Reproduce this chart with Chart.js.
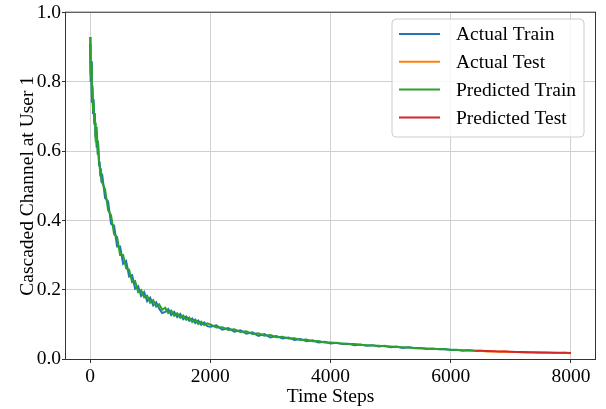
<!DOCTYPE html>
<html>
<head>
<meta charset="utf-8">
<script src="https://cdn.jsdelivr.net/npm/chart.js@4"></script>
<style>
  html, body { margin: 0; padding: 0; background: #fff; }
  canvas { display: block; }
</style>
</head>
<body>
<canvas id="myChart" width="606" height="409"></canvas>
<script>
// time steps for the training part (denser at the start where it drops fast)
const trainSteps = [
  0, 10, 20, 30, 40, 50, 60, 70, 80, 90, 100, 110, 120, 130, 140, 150, 160, 170, 180, 190,
  200, 250, 300, 350, 400, 450, 500, 550, 600, 650, 700, 750, 800, 850, 900, 950,
  1000, 1050, 1100, 1150, 1200, 1250, 1300, 1350, 1400, 1450, 1500, 1550, 1600, 1650, 1700, 1750, 1800, 1850, 1900, 1950,
  2000, 2100, 2200, 2300, 2400, 2500, 2600, 2700, 2800, 2900, 3000, 3100, 3200, 3300, 3400, 3500, 3600, 3700, 3800, 3900,
  4000, 4100, 4200, 4300, 4400, 4500, 4600, 4700, 4800, 4900, 5000, 5100, 5200, 5300, 5400, 5500, 5600, 5700, 5800, 5900,
  6000, 6100, 6200, 6300, 6400
];
const actualTrain = [
  0.91, 0.80, 0.86, 0.74, 0.79, 0.71, 0.75, 0.68, 0.71, 0.64, 0.67, 0.61, 0.63, 0.59, 0.60, 0.56, 0.57, 0.53, 0.55, 0.51,
  0.535, 0.465, 0.455, 0.39, 0.385, 0.325, 0.325, 0.275, 0.283, 0.238, 0.242, 0.203, 0.210, 0.182, 0.193, 0.167,
  0.177, 0.155, 0.164, 0.145, 0.133, 0.136, 0.144, 0.127, 0.136, 0.121, 0.130, 0.115, 0.123, 0.110, 0.117, 0.104, 0.111, 0.099, 0.106, 0.095,
  0.093, 0.097, 0.085, 0.089, 0.079, 0.083, 0.073, 0.077, 0.067, 0.072, 0.062, 0.066, 0.059, 0.062, 0.055, 0.058, 0.051, 0.054, 0.048, 0.050,
  0.045, 0.047, 0.043, 0.044, 0.040, 0.042, 0.038, 0.040, 0.036, 0.038, 0.034, 0.036, 0.032, 0.034, 0.031, 0.032, 0.029, 0.030, 0.028, 0.029,
  0.026, 0.027, 0.024, 0.025, 0.024
];
const predictedTrain = [
  0.93, 0.82, 0.85, 0.76, 0.78, 0.72, 0.74, 0.69, 0.70, 0.65, 0.66, 0.62, 0.63, 0.59, 0.60, 0.57, 0.57, 0.54, 0.55, 0.52,
  0.51, 0.49, 0.43, 0.415, 0.36, 0.352, 0.30, 0.30, 0.262, 0.258, 0.222, 0.225, 0.193, 0.199, 0.178, 0.183,
  0.163, 0.170, 0.151, 0.158, 0.142, 0.148, 0.133, 0.140, 0.125, 0.132, 0.119, 0.126, 0.113, 0.120, 0.107, 0.114, 0.101, 0.108, 0.098, 0.103,
  0.100, 0.091, 0.092, 0.084, 0.086, 0.078, 0.080, 0.072, 0.074, 0.067, 0.069, 0.063, 0.064, 0.059, 0.060, 0.055, 0.056, 0.051, 0.052, 0.048,
  0.048, 0.046, 0.045, 0.043, 0.043, 0.041, 0.040, 0.039, 0.038, 0.037, 0.036, 0.035, 0.034, 0.033, 0.032, 0.031, 0.030, 0.029, 0.029, 0.028,
  0.027, 0.026, 0.025, 0.025, 0.024
];

const testSteps = [6400, 6500, 6600, 6700, 6800, 6900, 7000, 7100, 7200, 7300, 7400, 7500, 7600, 7700, 7800, 7900, 8000];
const actualTest = [0.023, 0.0235, 0.022, 0.0225, 0.021, 0.0215, 0.020, 0.0205, 0.019, 0.0197, 0.0184, 0.019, 0.0177, 0.0184, 0.017, 0.0178, 0.0165];
const predictedTest = [0.024, 0.0235, 0.023, 0.0225, 0.022, 0.0215, 0.021, 0.0205, 0.020, 0.0197, 0.0194, 0.019, 0.0187, 0.0184, 0.018, 0.0178, 0.0175];

const xTicks = [0, 2000, 4000, 6000, 8000];
const yTicks = [0, 0.2, 0.4, 0.6, 0.8, 1.0];

const seriesNames = ['Actual Train', 'Actual Test', 'Predicted Train', 'Predicted Test'];
const seriesColors = ['#1f77b4', '#ff7f0e', '#2ca02c', '#d62728'];

const FONT = "'Liberation Serif', 'Times New Roman', serif";

function toPoints(xs, ys) {
  return xs.map((x, i) => ({ x: x, y: ys[i] }));
}

// frame on all four sides + legend box inside the plot (matplotlib look)
const framePlugin = {
  id: 'frame',
  afterDraw(chart) {
    const ctx = chart.ctx;
    const a = chart.chartArea;
    ctx.save();
    ctx.strokeStyle = '#333';
    ctx.lineWidth = 1;
    ctx.strokeRect(a.left - 0.5, a.top - 0.5, a.right - a.left + 1, a.bottom - a.top + 1);

    // legend
    const bx = 392, by = 19, bw = 192, bh = 118, r = 4;
    ctx.beginPath();
    ctx.moveTo(bx + r, by);
    ctx.arcTo(bx + bw, by, bx + bw, by + bh, r);
    ctx.arcTo(bx + bw, by + bh, bx, by + bh, r);
    ctx.arcTo(bx, by + bh, bx, by, r);
    ctx.arcTo(bx, by, bx + bw, by, r);
    ctx.closePath();
    ctx.fillStyle = 'rgba(255,255,255,0.8)';
    ctx.fill();
    ctx.strokeStyle = '#cccccc';
    ctx.stroke();

    ctx.font = '19.5px ' + FONT;
    ctx.textBaseline = 'middle';
    ctx.textAlign = 'left';
    seriesNames.forEach((name, i) => {
      const y = 34 + i * 27.8;
      ctx.strokeStyle = seriesColors[i];
      ctx.lineWidth = 2;
      ctx.beginPath();
      ctx.moveTo(399, y);
      ctx.lineTo(440, y);
      ctx.stroke();
      ctx.fillStyle = '#000';
      ctx.fillText(name, 456, y + 1);
    });
    ctx.restore();
  }
};

const datasets = [
  { label: seriesNames[0], data: toPoints(trainSteps, actualTrain), borderColor: seriesColors[0] },
  { label: seriesNames[1], data: toPoints(testSteps, actualTest), borderColor: seriesColors[1] },
  { label: seriesNames[2], data: toPoints(trainSteps, predictedTrain), borderColor: seriesColors[2] },
  { label: seriesNames[3], data: toPoints(testSteps, predictedTest), borderColor: seriesColors[3] }
].map(d => Object.assign(d, { borderWidth: 2, pointRadius: 0, fill: false, tension: 0 }));

// draw the first dataset at the back, like matplotlib
datasets.forEach((d, i) => { d.order = datasets.length - i; });

new Chart('myChart', {
  type: 'line',
  data: { datasets: datasets },
  options: {
    responsive: false,
    animation: false,
    layout: { padding: { left: 0, right: 11, top: 10, bottom: 0 } },
    plugins: {
      legend: { display: false },
      tooltip: { enabled: false }
    },
    scales: {
      x: {
        type: 'linear',
        min: -400,
        max: 8400,
        afterBuildTicks: scale => { scale.ticks = xTicks.map(v => ({ value: v })); },
        afterFit: scale => { scale.height = 50; },
        grid: { color: '#d0d0d0', tickColor: '#333', tickLength: 4 },
        border: { display: false },
        ticks: {
          color: '#000',
          font: { family: FONT, size: 19.5 },
          padding: 2,
          maxRotation: 0,
          callback: v => String(v)
        },
        title: {
          display: true,
          text: 'Time Steps',
          color: '#000',
          font: { family: FONT, size: 19.5 },
          padding: { top: 7, bottom: 0 }
        }
      },
      y: {
        min: 0,
        max: 1,
        afterBuildTicks: scale => { scale.ticks = yTicks.map(v => ({ value: v })); },
        afterFit: scale => { scale.width = 66; },
        grid: { color: '#d0d0d0', tickColor: '#333', tickLength: 4 },
        border: { display: false },
        ticks: {
          color: '#000',
          font: { family: FONT, size: 19.5 },
          padding: 1,
          callback: v => Number(v).toFixed(1)
        },
        title: {
          display: true,
          text: 'Cascaded Channel at User 1',
          color: '#000',
          font: { family: FONT, size: 19.5 },
          padding: { top: 16, bottom: 0 }
        }
      }
    }
  },
  plugins: [framePlugin]
});
</script>
</body>
</html>
